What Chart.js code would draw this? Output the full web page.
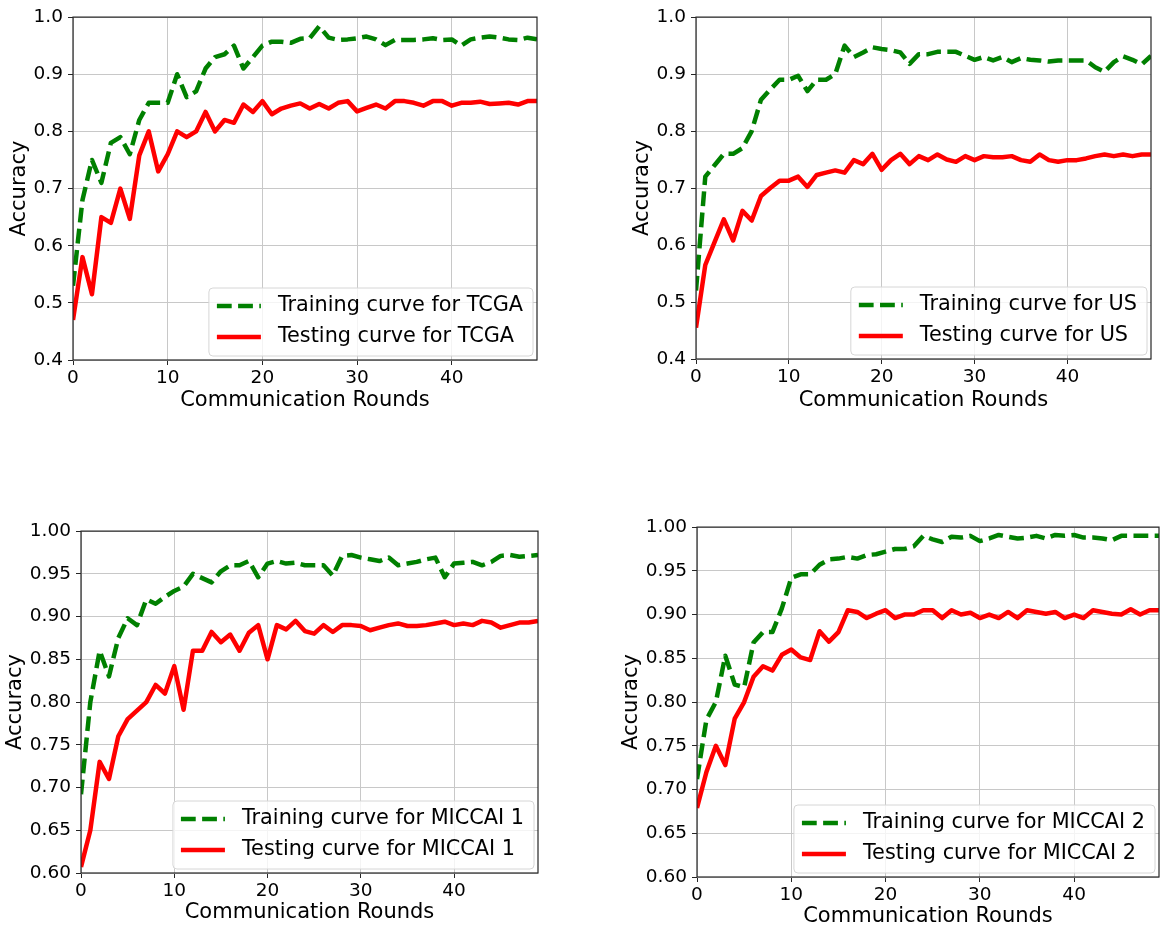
<!DOCTYPE html>
<html>
<head>
<meta charset="utf-8">
<script src="https://cdn.jsdelivr.net/npm/chart.js@4.4.1/dist/chart.umd.min.js"></script>
<style>
  html, body { margin: 0; padding: 0; background: #fff; }
  body { width: 1170px; height: 932px; position: relative; overflow: hidden; }
  canvas { position: absolute; }
</style>
</head>
<body>
<canvas id="tcga"></canvas>
<canvas id="us"></canvas>
<canvas id="miccai1"></canvas>
<canvas id="miccai2"></canvas>
<script>
// communication rounds (x axis)
const rounds = Array.from({ length: 50 }, (_, i) => i);
const xTicks = [0, 10, 20, 30, 40];
const yTicksTop = [0.4, 0.5, 0.6, 0.7, 0.8, 0.9, 1.0];
const yTicksBottom = [0.60, 0.65, 0.70, 0.75, 0.80, 0.85, 0.90, 0.95, 1.00];

const tcgaTrain = [0.53, 0.68, 0.75, 0.71, 0.78, 0.79, 0.76, 0.82, 0.85, 0.85,
  0.85, 0.90, 0.86, 0.87, 0.91, 0.93, 0.935, 0.95, 0.91, 0.93,
  0.95, 0.957, 0.957, 0.955, 0.962, 0.963, 0.984, 0.964, 0.96, 0.961,
  0.963, 0.966, 0.961, 0.951, 0.96, 0.96, 0.96, 0.961, 0.963, 0.96,
  0.961, 0.95, 0.961, 0.964, 0.966, 0.964, 0.961, 0.96, 0.964, 0.961];
const tcgaTest = [0.47, 0.58, 0.515, 0.65, 0.64, 0.70, 0.647, 0.758, 0.80, 0.73,
  0.76, 0.80, 0.79, 0.80, 0.834, 0.80, 0.82, 0.815, 0.847, 0.834,
  0.853, 0.83, 0.84, 0.845, 0.849, 0.84, 0.848, 0.84, 0.85, 0.853,
  0.835, 0.841, 0.847, 0.84, 0.853, 0.853, 0.85, 0.845, 0.853, 0.853,
  0.845, 0.85, 0.85, 0.852, 0.848, 0.849, 0.85, 0.847, 0.853, 0.853];

const usTrain = [0.52, 0.72, 0.74, 0.76, 0.76, 0.77, 0.80, 0.855, 0.873, 0.89,
  0.89, 0.897, 0.87, 0.89, 0.89, 0.90, 0.95, 0.93, 0.938, 0.947,
  0.944, 0.942, 0.938, 0.918, 0.935, 0.935, 0.939, 0.939, 0.939, 0.932,
  0.925, 0.93, 0.924, 0.93, 0.921, 0.928, 0.925, 0.924, 0.922, 0.924,
  0.924, 0.924, 0.924, 0.912, 0.904, 0.921, 0.931, 0.925, 0.917, 0.932];
const usTest = [0.455, 0.565, 0.605, 0.645, 0.608, 0.66, 0.643, 0.686, 0.70, 0.713,
  0.713, 0.72, 0.702, 0.723, 0.727, 0.731, 0.727, 0.749, 0.742, 0.76,
  0.732, 0.749, 0.76, 0.742, 0.756, 0.749, 0.759, 0.75, 0.746, 0.756,
  0.749, 0.756, 0.754, 0.754, 0.756, 0.749, 0.746, 0.759, 0.749, 0.746,
  0.749, 0.749, 0.752, 0.756, 0.759, 0.756, 0.759, 0.756, 0.759, 0.759];

const miccai1Train = [0.692, 0.80, 0.86, 0.83, 0.875, 0.898, 0.89, 0.92, 0.915, 0.923,
  0.93, 0.935, 0.95, 0.945, 0.94, 0.953, 0.96, 0.96, 0.965, 0.946,
  0.962, 0.965, 0.962, 0.963, 0.96, 0.96, 0.96, 0.948, 0.971, 0.972,
  0.969, 0.967, 0.965, 0.969, 0.96, 0.962, 0.964, 0.967, 0.969, 0.946,
  0.962, 0.963, 0.964, 0.96, 0.964, 0.971, 0.972, 0.97, 0.971, 0.972];
const miccai1Test = [0.607, 0.65, 0.73, 0.71, 0.76, 0.78, 0.79, 0.80, 0.82, 0.81,
  0.842, 0.791, 0.86, 0.86, 0.882, 0.87, 0.879, 0.86, 0.881, 0.89,
  0.85, 0.89, 0.885, 0.895, 0.883, 0.88, 0.89, 0.882, 0.89, 0.89,
  0.889, 0.884, 0.887, 0.89, 0.892, 0.889, 0.889, 0.89, 0.892, 0.894,
  0.89, 0.892, 0.89, 0.895, 0.893, 0.887, 0.89, 0.893, 0.893, 0.895];

const miccai2Train = [0.712, 0.78, 0.80, 0.853, 0.82, 0.817, 0.868, 0.88, 0.88, 0.907,
  0.942, 0.946, 0.946, 0.957, 0.963, 0.964, 0.966, 0.964, 0.968, 0.969,
  0.972, 0.975, 0.975, 0.978, 0.99, 0.986, 0.983, 0.989, 0.988, 0.99,
  0.984, 0.987, 0.991, 0.989, 0.987, 0.988, 0.99, 0.987, 0.991, 0.99,
  0.991, 0.988, 0.988, 0.987, 0.985, 0.99, 0.99, 0.99, 0.99, 0.99];
const miccai2Test = [0.679, 0.72, 0.75, 0.728, 0.781, 0.80, 0.829, 0.841, 0.836, 0.854,
  0.86, 0.851, 0.848, 0.881, 0.869, 0.88, 0.905, 0.903, 0.896, 0.901,
  0.905, 0.896, 0.90, 0.90, 0.905, 0.905, 0.896, 0.905, 0.90, 0.902,
  0.896, 0.90, 0.896, 0.903, 0.896, 0.905, 0.903, 0.901, 0.903, 0.896,
  0.90, 0.896, 0.905, 0.903, 0.901, 0.90, 0.906, 0.90, 0.905, 0.905];

const FONT = "'DejaVu Sans', 'Liberation Sans', sans-serif";
const GREEN = '#008000';
const RED = '#ff0000';
const LINE_W = 4.5;

// plot-area boxes on the page and where the axis titles sit
const panels = [
  { id: 'tcga', name: 'TCGA', train: tcgaTrain, test: tcgaTest, yTicks: yTicksTop, digits: 1,
    L: 73, T: 11, R: 537, B: 360, yTitleX: 20, xTitleY: 400 },
  { id: 'us', name: 'US', train: usTrain, test: usTest, yTicks: yTicksTop, digits: 1,
    L: 696, T: 11, R: 1151, B: 359, yTitleX: 643, xTitleY: 400 },
  { id: 'miccai1', name: 'MICCAI 1', train: miccai1Train, test: miccai1Test, yTicks: yTicksBottom, digits: 2,
    L: 81, T: 525, R: 538, B: 873, yTitleX: 16, xTitleY: 912 },
  { id: 'miccai2', name: 'MICCAI 2', train: miccai2Train, test: miccai2Test, yTicks: yTicksBottom, digits: 2,
    L: 697, T: 521, R: 1159, B: 877, yTitleX: 632, xTitleY: 916 }
];

// draws the top/right spines too, matplotlib style box
const frameBox = {
  id: 'frameBox',
  afterDatasetsDraw(chart) {
    const { ctx, chartArea: a } = chart;
    ctx.save();
    ctx.strokeStyle = '#262626';
    ctx.lineWidth = 1.2;
    ctx.strokeRect(a.left, a.top, a.right - a.left, a.bottom - a.top);
    ctx.restore();
  }
};

// legend inside the axes, lower right
const innerLegend = {
  id: 'innerLegend',
  afterDraw(chart) {
    const { ctx, chartArea: a } = chart;
    const sets = chart.data.datasets;
    ctx.save();
    ctx.font = '20.8px ' + FONT;
    const textW = Math.max(...sets.map(d => ctx.measureText(d.label).width));
    const padL = 8, handle = 44, gap = 17, padR = 10;
    const w = padL + handle + gap + textW + padR;
    const h = 68;
    const x = a.right - 4 - w;
    const y = a.bottom - 4 - h;
    ctx.beginPath();
    ctx.roundRect(x, y, w, h, 4);
    ctx.fillStyle = 'rgba(255,255,255,0.8)';
    ctx.fill();
    ctx.strokeStyle = '#d6d6d6';
    ctx.lineWidth = 1;
    ctx.stroke();
    sets.forEach((d, i) => {
      const cy = y + 18 + i * 31;
      ctx.beginPath();
      ctx.setLineDash(d.borderDash || []);
      ctx.strokeStyle = d.borderColor;
      ctx.lineWidth = d.borderWidth;
      ctx.moveTo(x + padL, cy);
      ctx.lineTo(x + padL + handle, cy);
      ctx.stroke();
      ctx.setLineDash([]);
      ctx.fillStyle = '#000';
      ctx.textBaseline = 'middle';
      ctx.textAlign = 'left';
      ctx.fillText(d.label, x + padL + handle + gap, cy);
    });
    ctx.restore();
  }
};

function makeChart(p) {
  const titleHalf = 21 * 1.2 / 2;
  const left = Math.round(p.yTitleX - titleHalf);
  const top = p.T - 10;
  const right = p.R + 14;
  const bottom = Math.round(p.xTitleY + titleHalf);
  const yw = p.L - left;
  const xh = bottom - p.B;

  const canvas = document.getElementById(p.id);
  canvas.width = right - left;
  canvas.height = bottom - top;
  canvas.style.left = left + 'px';
  canvas.style.top = top + 'px';
  canvas.style.width = (right - left) + 'px';
  canvas.style.height = (bottom - top) + 'px';

  const toPoints = vals => rounds.map((r, i) => ({ x: r, y: vals[i] }));

  return new Chart(canvas, {
    type: 'line',
    data: {
      datasets: [
        {
          label: 'Training curve for ' + p.name,
          data: toPoints(p.train),
          borderColor: GREEN,
          borderWidth: LINE_W,
          borderDash: [14.8, 6.4],
          borderJoinStyle: 'round',
          pointRadius: 0,
          tension: 0,
          fill: false
        },
        {
          label: 'Testing curve for ' + p.name,
          data: toPoints(p.test),
          borderColor: RED,
          borderWidth: LINE_W,
          borderJoinStyle: 'round',
          pointRadius: 0,
          tension: 0,
          fill: false
        }
      ]
    },
    options: {
      responsive: false,
      animation: false,
      devicePixelRatio: 1,
      layout: { padding: { top: 10, right: 14, left: 0, bottom: 0 } },
      plugins: {
        legend: { display: false },
        tooltip: { enabled: false }
      },
      scales: {
        x: {
          type: 'linear',
          min: 0,
          max: 49,
          afterBuildTicks: s => { s.ticks = xTicks.map(v => ({ value: v })); },
          afterFit: s => { s.height = xh; },
          ticks: {
            color: '#000',
            padding: 2,
            maxRotation: 0,
            font: { family: FONT, size: 18.5 },
            callback: v => String(v)
          },
          grid: { color: '#c8c8c8', lineWidth: 1, tickLength: 5, tickColor: '#262626', tickWidth: 1 },
          border: { display: false },
          title: {
            display: true,
            text: 'Communication Rounds',
            color: '#000',
            padding: 0,
            font: { family: FONT, size: 21, lineHeight: 1.2 }
          }
        },
        y: {
          type: 'linear',
          min: p.yTicks[0],
          max: p.yTicks[p.yTicks.length - 1],
          afterBuildTicks: s => { s.ticks = p.yTicks.map(v => ({ value: v })); },
          afterFit: s => { s.width = yw; },
          ticks: {
            color: '#000',
            padding: 5,
            font: { family: FONT, size: 18.5 },
            callback: v => Number(v).toFixed(p.digits)
          },
          grid: { color: '#c8c8c8', lineWidth: 1, tickLength: 5, tickColor: '#262626', tickWidth: 1 },
          border: { display: false },
          title: {
            display: true,
            text: 'Accuracy',
            color: '#000',
            padding: 0,
            font: { family: FONT, size: 21, lineHeight: 1.2 }
          }
        }
      }
    },
    plugins: [frameBox, innerLegend]
  });
}

panels.forEach(makeChart);
</script>
</body>
</html>
